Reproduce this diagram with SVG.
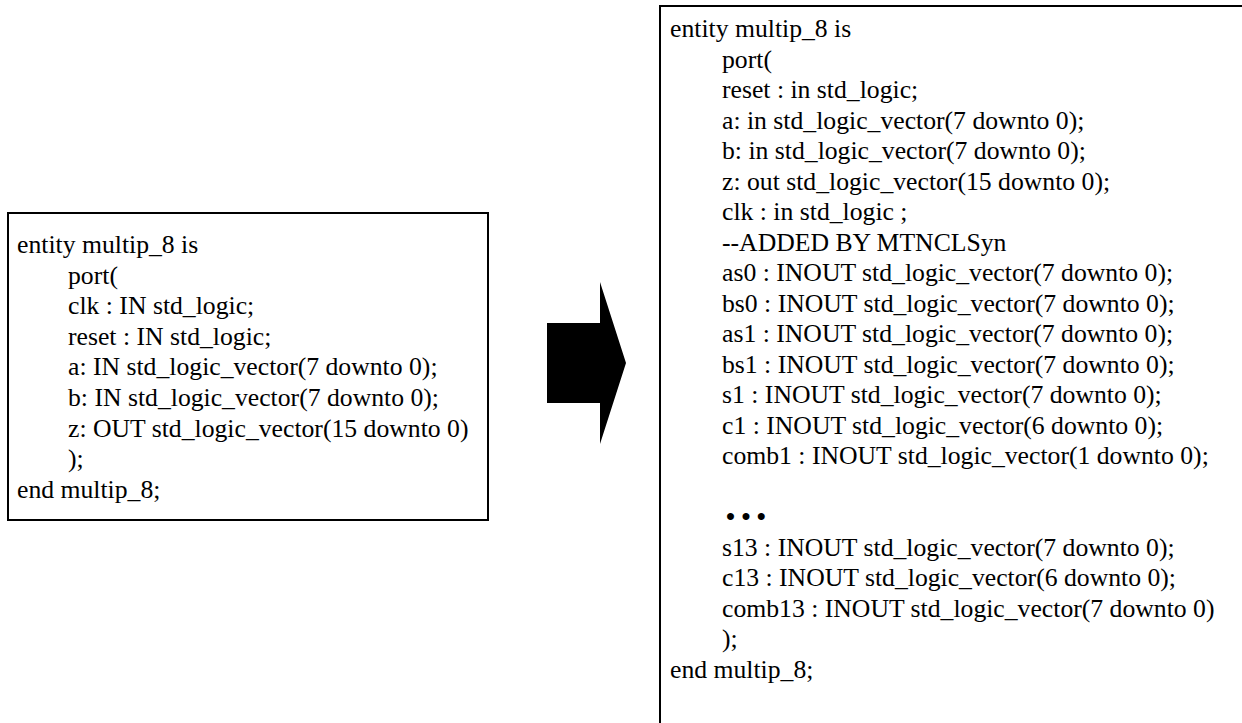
<svg xmlns="http://www.w3.org/2000/svg" width="1242" height="723" viewBox="0 0 1242 723">
  <style>
    .box { fill: #ffffff; stroke: #000000; stroke-width: 2; }
    .code { font-family: 'Liberation Serif', Tinos, 'Nimbus Roman', 'Times New Roman', Times, 'DejaVu Serif', 'Noto Serif', serif; font-size: 25.7px; fill: #000000; }
    .arrow { fill: #000000; stroke: none; }
  </style>
  <rect width="1242" height="723" fill="#ffffff"/>

  <!-- original entity declaration -->
  <g id="entity-original">
    <rect class="box" x="8" y="213" width="480" height="307"/>
    <text class="code" x="17" y="253">entity multip_8 is</text>
    <text class="code" x="68" y="283.6">port(</text>
    <text class="code" x="68" y="314.2">clk : IN std_logic;</text>
    <text class="code" x="68" y="344.8">reset : IN std_logic;</text>
    <text class="code" x="68" y="375.4">a: IN std_logic_vector(7 downto 0);</text>
    <text class="code" x="68" y="406">b: IN std_logic_vector(7 downto 0);</text>
    <text class="code" x="68" y="436.6">z: OUT std_logic_vector(15 downto 0)</text>
    <text class="code" x="68" y="467.2">);</text>
    <text class="code" x="17" y="497.8">end multip_8;</text>
  </g>

  <!-- block arrow between the two declarations -->
  <g id="connectors">
    <polygon class="arrow" points="547,323 600,323 600,282 626,363 600,444 600,403 547,403"/>
  </g>

  <!-- synthesized entity declaration -->
  <g id="entity-synthesized">
    <rect class="box" x="660" y="6" width="620" height="760"/>
    <text class="code" x="670" y="37">entity multip_8 is</text>
    <text class="code" x="722" y="67.5">port(</text>
    <text class="code" x="722" y="98">reset : in std_logic;</text>
    <text class="code" x="722" y="128.5">a: in std_logic_vector(7 downto 0);</text>
    <text class="code" x="722" y="159">b: in std_logic_vector(7 downto 0);</text>
    <text class="code" x="722" y="189.5">z: out std_logic_vector(15 downto 0);</text>
    <text class="code" x="722" y="220">clk : in std_logic ;</text>
    <text class="code" x="722" y="250.5">--ADDED BY MTNCLSyn</text>
    <text class="code" x="722" y="281">as0 : INOUT std_logic_vector(7 downto 0);</text>
    <text class="code" x="722" y="311.5">bs0 : INOUT std_logic_vector(7 downto 0);</text>
    <text class="code" x="722" y="342">as1 : INOUT std_logic_vector(7 downto 0);</text>
    <text class="code" x="722" y="372.5">bs1 : INOUT std_logic_vector(7 downto 0);</text>
    <text class="code" x="722" y="403">s1 : INOUT std_logic_vector(7 downto 0);</text>
    <text class="code" x="722" y="433.5">c1 : INOUT std_logic_vector(6 downto 0);</text>
    <text class="code" x="722" y="464">comb1 : INOUT std_logic_vector(1 downto 0);</text>
    <text class="code" x="726" y="525" font-weight="bold">• • •</text>
    <text class="code" x="722" y="555.5">s13 : INOUT std_logic_vector(7 downto 0);</text>
    <text class="code" x="722" y="586">c13 : INOUT std_logic_vector(6 downto 0);</text>
    <text class="code" x="722" y="616.5">comb13 : INOUT std_logic_vector(7 downto 0)</text>
    <text class="code" x="722" y="647">);</text>
    <text class="code" x="670" y="677.5">end multip_8;</text>
  </g>
</svg>
